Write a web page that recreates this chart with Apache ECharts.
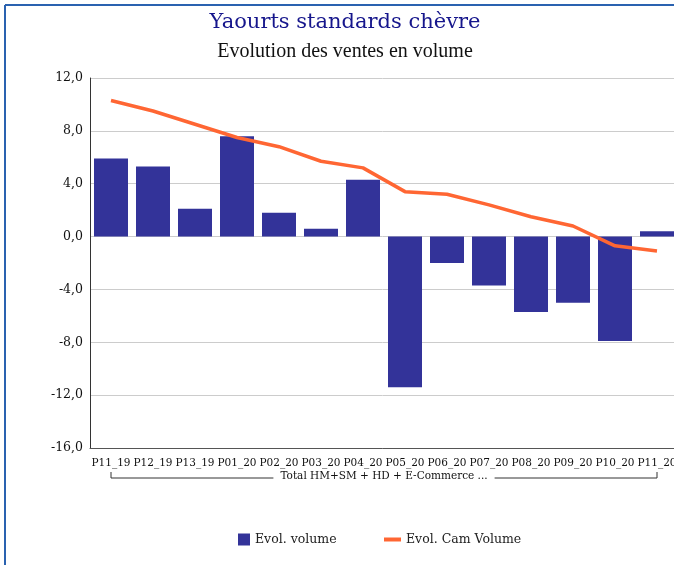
<!DOCTYPE html>
<html>
<head>
<meta charset="utf-8">
<script src="https://cdn.jsdelivr.net/npm/echarts@6/dist/echarts.min.js"></script>
<style>
  html, body { margin: 0; padding: 0; background: #fff; }
  #chart { width: 674px; height: 565px; }
</style>
</head>
<body>
<div id="chart"></div>
<script>
// periods and values
const categories = ['P11_19', 'P12_19', 'P13_19', 'P01_20', 'P02_20', 'P03_20', 'P04_20',
  'P05_20', 'P06_20', 'P07_20', 'P08_20', 'P09_20', 'P10_20', 'P11_20']
const evolVolume = [5.9, 5.3, 2.1, 7.6, 1.8, 0.6, 4.3, -11.4, -2.0, -3.7, -5.7, -5.0, -7.9, 0.4]
const evolCamVolume = [10.3, 9.5, 8.5, 7.5, 6.8, 5.7, 5.2, 3.4, 3.2, 2.4, 1.5, 0.8, -0.7, -1.1]
const groupLabel = 'Total HM+SM + HD + E-Commerce ...'

const serif = 'DejaVu Serif'
const chart = echarts.init(document.getElementById('chart'))

const option = {
  animation: false,
  backgroundColor: '#fff',
  title: [
    {
      text: 'Yaourts standards chèvre',
      left: 345,
      top: 12,
      padding: 0,
      textAlign: 'center',
      textStyle: { fontFamily: serif, fontSize: 21, fontWeight: 'normal', color: '#16168c' }
    },
    {
      text: 'Evolution des ventes en volume',
      left: 345,
      top: 42,
      padding: 0,
      textAlign: 'center',
      textStyle: { fontFamily: 'Liberation Serif', fontSize: 20, fontWeight: 'normal', color: '#111' }
    }
  ],
  legend: [
    {
      data: ['Evol. volume'],
      left: 238,
      top: 533,
      padding: 0,
      icon: 'rect',
      itemWidth: 12,
      itemHeight: 12,
      itemGap: 6,
      textStyle: { fontFamily: serif, fontSize: 12.5, color: '#222' }
    },
    {
      data: ['Evol. Cam Volume'],
      left: 384,
      top: 533,
      padding: 0,
      icon: 'rect',
      itemWidth: 17,
      itemHeight: 4,
      textStyle: { fontFamily: serif, fontSize: 12.5, color: '#222' }
    }
  ],
  grid: {
    left: 90,
    top: 78,
    width: 588,
    height: 370,
    containLabel: false,
    outerBoundsMode: 'none'
  },
  xAxis: {
    type: 'category',
    data: categories,
    axisLine: { onZero: false, lineStyle: { color: '#555', width: 1 } },
    axisTick: { show: false },
    axisLabel: { fontFamily: serif, fontSize: 10.5, color: '#111', margin: 10, interval: 0 }
  },
  yAxis: {
    type: 'value',
    min: -16,
    max: 12,
    interval: 4,
    axisLine: { show: true, lineStyle: { color: '#333', width: 1 } },
    axisTick: { show: false },
    axisLabel: {
      fontFamily: serif,
      fontSize: 12.5,
      color: '#111',
      margin: 7,
      formatter: (v) => v.toFixed(1).replace('.', ',')
    },
    splitLine: { lineStyle: { color: '#cccccc', width: 1 } }
  },
  series: [
    {
      name: 'Evol. volume',
      type: 'bar',
      data: evolVolume,
      barWidth: 34,
      itemStyle: { color: '#333399' }
    },
    {
      name: 'Evol. Cam Volume',
      type: 'line',
      data: evolCamVolume,
      symbol: 'none',
      lineStyle: { color: '#ff6633', width: 3.5 },
      itemStyle: { color: '#ff6633' }
    }
  ]
}
chart.setOption(option)

// bracket under the category labels, from first to last period
const xa = chart.convertToPixel({ xAxisIndex: 0 }, categories[0])
const xb = chart.convertToPixel({ xAxisIndex: 0 }, categories[categories.length - 1])
const yBar = 478
const bracket = { stroke: '#333', lineWidth: 1 }
chart.setOption({
  graphic: [
    // frame border on top and left
    { type: 'line', shape: { x1: 5, y1: 5, x2: 674, y2: 5 }, style: { stroke: '#2a62b0', lineWidth: 2 } },
    { type: 'line', shape: { x1: 5, y1: 5, x2: 5, y2: 565 }, style: { stroke: '#2a62b0', lineWidth: 2 } },
    { type: 'line', shape: { x1: xa, y1: yBar, x2: xb, y2: yBar }, style: bracket },
    { type: 'line', shape: { x1: xa, y1: yBar - 6, x2: xa, y2: yBar }, style: bracket },
    { type: 'line', shape: { x1: xb, y1: yBar - 6, x2: xb, y2: yBar }, style: bracket },
    {
      type: 'text',
      z: 10,
      x: (xa + xb) / 2,
      y: 476,
      style: {
        text: groupLabel,
        align: 'center',
        verticalAlign: 'middle',
        fontFamily: serif,
        fontSize: 10.5,
        fill: '#111',
        backgroundColor: '#fff',
        padding: [0, 7]
      }
    }
  ]
})
</script>
</body>
</html>
